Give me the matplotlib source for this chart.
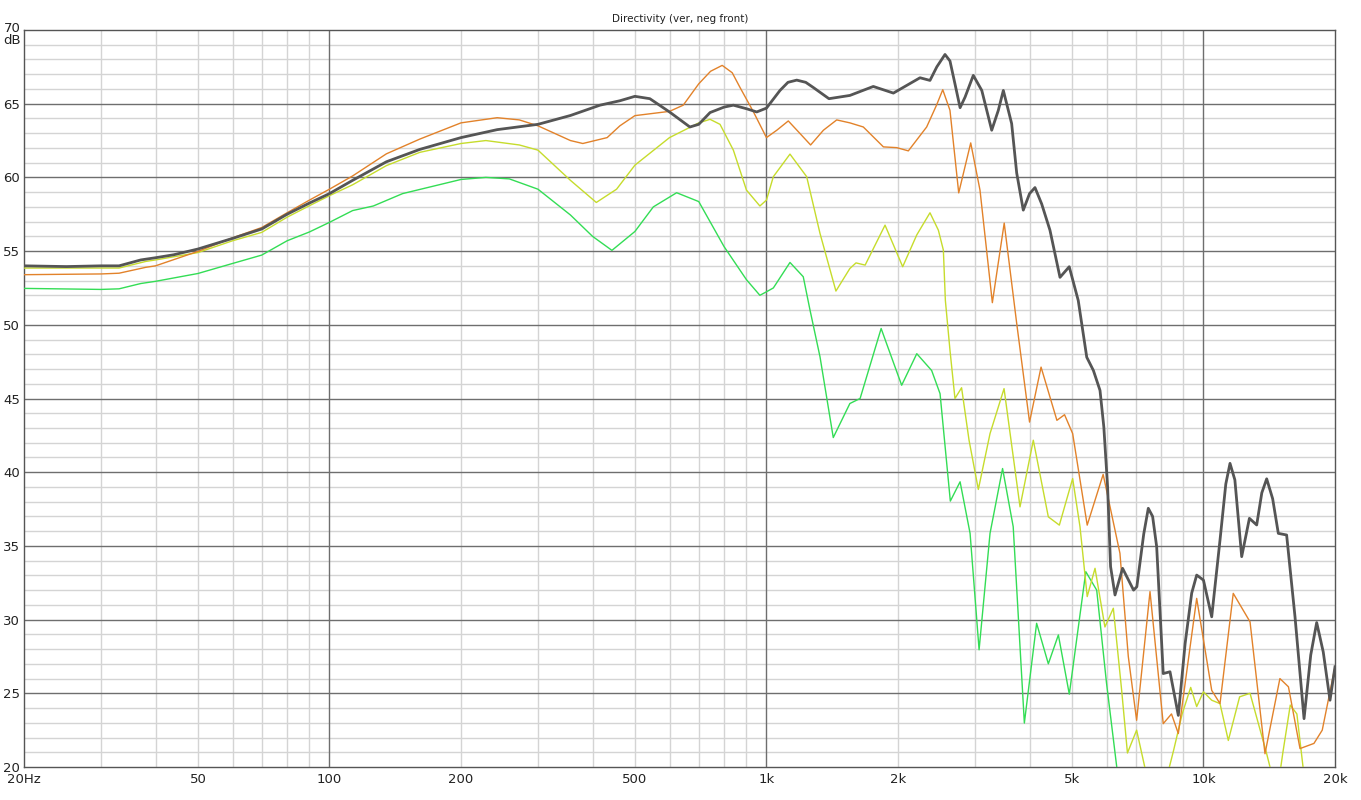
import matplotlib
matplotlib.use("Agg")
import matplotlib.pyplot as plt
import matplotlib.transforms as mtransforms

# ---------------- data (frequency in Hz, level in dB) ----------------
dark_f = [20, 25, 30, 33, 37, 40, 44, 50, 60, 70, 80, 90, 100, 113, 135, 161, 200, 242, 300, 356,
          416, 462, 500, 541, 600, 668, 700, 743, 800, 840, 900, 950, 1000, 1074, 1120, 1173, 1230,
          1280, 1390, 1552, 1756, 1952, 2246, 2367, 2454, 2562, 2630, 2700, 2774, 2848, 2974, 3110,
          3277, 3393, 3484, 3640, 3738, 3870, 4000, 4116, 4264, 4454, 4696, 4930, 5170, 5407, 5600,
          5798, 5916, 6035, 6130, 6275, 6530, 6920, 7040, 7300, 7478, 7650, 7816, 8090, 8384, 8760,
          9080, 9400, 9650, 10000, 10445, 10912, 11250, 11502, 11800, 12232, 12740, 13238, 13600,
          13954, 14400, 14836, 15500, 16200, 16990, 17600, 18160, 18800, 19480, 20000]
dark_db = [54.0, 53.95, 54.0, 54.0, 54.4, 54.55, 54.75, 55.14, 55.86, 56.5, 57.5, 58.26, 58.9, 59.8,
           61.06, 61.9, 62.7, 63.24, 63.6, 64.2, 64.9, 65.2, 65.5, 65.34, 64.44, 63.42, 63.6, 64.4,
           64.77, 64.9, 64.66, 64.44, 64.7, 65.9, 66.45, 66.6, 66.45, 66.1, 65.34, 65.56, 66.17,
           65.72, 66.76, 66.58, 67.5, 68.34, 67.9, 66.35, 64.73, 65.45, 66.92, 65.9, 63.2, 64.55,
           65.9, 63.65, 60.3, 57.78, 58.9, 59.31, 58.2, 56.42, 53.22, 53.94, 51.65, 47.8, 46.9,
           45.55, 43.07, 39.0, 33.6, 31.67, 33.48, 32.0, 32.23, 35.8, 37.55, 37.0, 34.94, 26.34,
           26.46, 23.5, 28.38, 31.8, 33.02, 32.68, 30.19, 35.4, 39.2, 40.6, 39.48, 34.27, 36.87,
           36.42, 38.6, 39.55, 38.2, 35.85, 35.74, 30.19, 23.28, 27.6, 29.8, 27.8, 24.53, 26.8]

orange_f = [20, 30, 33, 38, 40, 50, 60, 70, 80, 90, 100, 113, 135, 161, 200, 242, 272, 300, 356,
            380, 432, 462, 500, 600, 645, 700, 745, 792, 835, 870, 934, 1000, 1056, 1122, 1194,
            1262, 1350, 1448, 1552, 1666, 1852, 1986, 2112, 2326, 2450, 2532, 2630, 2754, 2934,
            3081, 3288, 3500, 3738, 4000, 4250, 4620, 4810, 5020, 5420, 5895, 6440, 6730, 7032,
            7546, 8090, 8450, 8760, 9650, 10445, 10912, 11700, 12782, 13830, 14960, 15650, 16632,
            17900, 18700, 20000]
orange_db = [53.4, 53.45, 53.5, 53.9, 54.0, 54.98, 55.9, 56.6, 57.6, 58.46, 59.2, 60.1, 61.6, 62.6,
             63.7, 64.05, 63.9, 63.5, 62.5, 62.3, 62.7, 63.5, 64.19, 64.48, 64.9, 66.35, 67.2,
             67.6, 67.1, 66.1, 64.44, 62.7, 63.2, 63.83, 62.97, 62.2, 63.2, 63.9, 63.7, 63.42,
             62.07, 62.02, 61.8, 63.42, 64.9, 65.95, 64.55, 58.95, 62.34, 59.13, 51.5, 56.9, 50.1,
             43.4, 47.13, 43.52, 43.9, 42.62, 36.41, 39.85, 34.5, 27.5, 23.17, 31.9, 22.94, 23.6,
             22.27, 31.44, 25.2, 24.3, 31.78, 29.85, 20.9, 26.0, 25.44, 21.25, 21.6, 22.5, 26.8]

yellow_f = [20, 33, 38, 40, 50, 60, 70, 80, 90, 100, 113, 135, 161, 200, 228, 272, 300, 356, 408,
            454, 500, 600, 700, 743, 783, 840, 900, 966, 1000, 1037, 1132, 1236, 1326, 1442, 1552,
            1603, 1682, 1868, 2050, 2208, 2367, 2474, 2540, 2567, 2630, 2700, 2796, 2908, 3054,
            3248, 3497, 3804, 4080, 4416, 4680, 5020, 5218, 5420, 5648, 5950, 6220, 6497, 6700,
            7032, 7340, 7800, 8540, 8940, 9350, 9650, 10000, 10445, 10912, 11400, 12100, 12782,
            13954, 14200, 14700, 15200, 15800, 16360, 16900, 17500]
yellow_db = [53.85, 53.85, 54.3, 54.4, 54.9, 55.7, 56.27, 57.3, 58.08, 58.76, 59.5, 60.8, 61.7,
             62.3, 62.5, 62.2, 61.85, 59.8, 58.3, 59.2, 60.83, 62.7, 63.7, 63.94, 63.6, 61.85,
             59.14, 58.06, 58.46, 60.05, 61.58, 60.05, 56.2, 52.29, 53.82, 54.2, 54.05, 56.76,
             53.94, 56.1, 57.6, 56.42, 55.07, 51.65, 48.28, 45.0, 45.73, 42.17, 38.83, 42.62, 45.67,
             37.65, 42.17, 36.97, 36.41, 39.57, 36.3, 31.56, 33.48, 29.5, 30.77, 25.24, 20.95,
             22.5, 20.0, 16.5, 21.1, 23.6, 25.4, 24.1, 25.1, 24.53, 24.3, 21.8, 24.76, 25.0, 20.9,
             20.0, 18.0, 21.0, 24.2, 23.6, 20.0, 16.0]

green_f = [20, 30, 33, 37, 40, 50, 60, 70, 80, 90, 100, 113, 126, 147, 200, 228, 258, 300, 356,
           400, 443, 500, 551, 623, 700, 800, 900, 966, 1000, 1037, 1132, 1214, 1258, 1326, 1422,
           1552, 1638, 1830, 1884, 2039, 2208, 2388, 2496, 2635, 2774, 2924, 3066, 3248, 3470,
           3670, 3892, 4152, 4416, 4656, 4932, 5380, 5698, 6000, 6330, 6600]
green_db = [52.47, 52.4, 52.44, 52.8, 52.95, 53.48, 54.16, 54.73, 55.7, 56.3, 56.95, 57.75, 58.06,
            58.9, 59.86, 60.0, 59.9, 59.2, 57.45, 56.0, 55.05, 56.33, 58.0, 58.96, 58.36, 55.3,
            53.06, 52.0, 52.24, 52.5, 54.23, 53.26, 51.0, 47.83, 42.35, 44.66, 45.0, 49.75, 48.71,
            45.9, 48.04, 46.9, 45.33, 38.04, 39.35, 35.85, 27.95, 35.85, 40.25, 36.3, 22.98, 29.75,
            27.0, 28.96, 24.94, 33.25, 32.0, 25.7, 20.05, 16.0]

x_ticks = [20, 50, 100, 200, 500, 1000, 2000, 5000, 10000, 20000]
x_labels = ["20Hz", "50", "100", "200", "500", "1k", "2k", "5k", "10k", "20k"]
y_ticks = [20, 25, 30, 35, 40, 45, 50, 55, 60, 65, 70]
title = "Directivity (ver, neg front)"

# ---------------- figure ----------------
W, H = 1361, 800
fig = plt.figure(figsize=(W / 100, H / 100), dpi=100)
ax = fig.add_axes([24 / W, 33 / H, (1335 - 24) / W, (767 - 30) / H])
ax.set_xscale("log")
ax.set_xlim(20, 20000)
ax.set_ylim(20, 70)

# grid
minor_col = "#d4d4d4"
major_col = "#6e6e6e"
for d in (10, 100, 1000, 10000):
    for m in range(1, 10):
        f = d * m
        if 20 < f < 20000:
            is_major = m == 1
            ax.axvline(f, color=major_col if is_major else minor_col,
                       lw=1.0, zorder=1 if is_major else 0)
for v in range(21, 70):
    ax.axhline(v, color=major_col if v % 5 == 0 else minor_col,
               lw=1.0, zorder=1 if v % 5 == 0 else 0)

# curves
ax.plot(green_f, green_db, color="#33dd55", lw=1.0, zorder=3)
ax.plot(yellow_f, yellow_db, color="#c6dc2c", lw=1.0, zorder=3)
ax.plot(orange_f, orange_db, color="#e2822a", lw=1.0, zorder=4)
ax.plot(dark_f, dark_db, color="#555555", lw=2.0, zorder=5)

for s in ax.spines.values():
    s.set_color("#555555")
    s.set_linewidth(1.0)

ax.set_xticks(x_ticks)
ax.set_xticklabels(x_labels)
ax.xaxis.set_minor_locator(matplotlib.ticker.NullLocator())
ax.set_yticks(y_ticks)
ax.set_yticklabels([str(v) if v != 70 else "" for v in y_ticks])
ax.tick_params(axis="both", length=0, labelsize=9.5, colors="#222222")
ax.tick_params(axis="x", pad=4)
ax.tick_params(axis="y", pad=3)

trans = mtransforms.blended_transform_factory(ax.transAxes, ax.transData)
ax.text(-0.0025, 70.12, "70", transform=trans, ha="right", va="center",
        fontsize=9.5, color="#222222")
ax.text(-0.0025, 69.72, "dB", transform=trans, ha="right", va="top",
        fontsize=9.5, color="#222222")

fig.text(0.5, 1 - 19 / H, title, ha="center", va="center", fontsize=7.5, color="#222222")

fig.savefig("out.png", dpi=100, facecolor="white")
